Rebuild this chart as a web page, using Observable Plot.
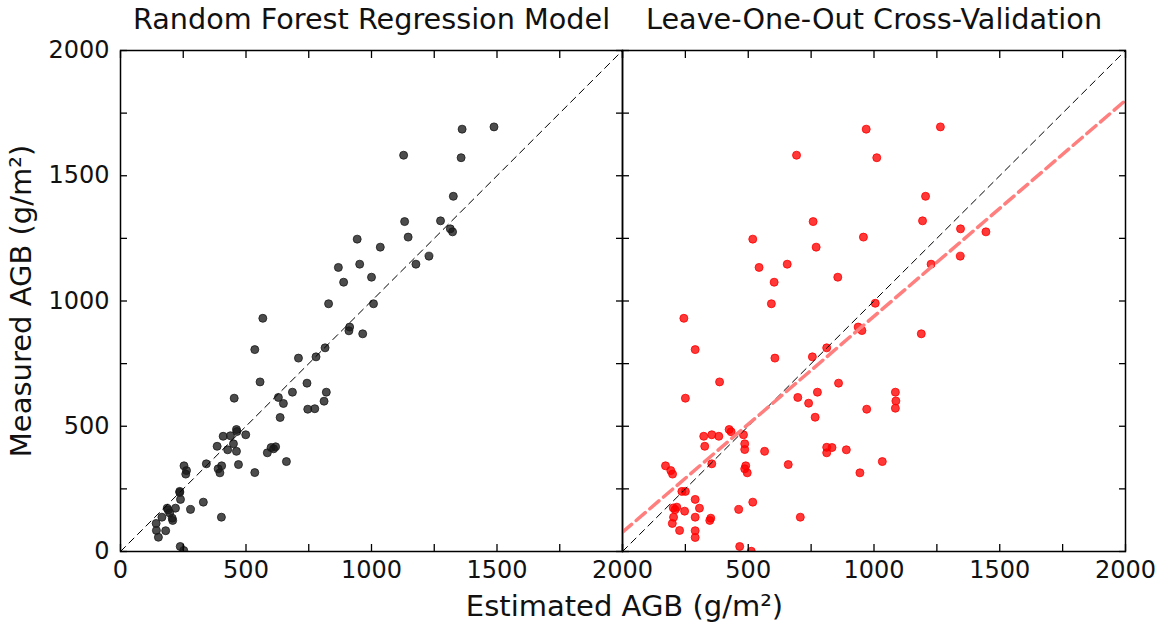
<!DOCTYPE html>
<html><head><meta charset="utf-8">
<script src="https://cdn.jsdelivr.net/npm/d3@7"></script>
<script src="https://cdn.jsdelivr.net/npm/@observablehq/plot@0.6"></script>
<style>
body{margin:0;background:#fff;}
#chart{position:relative;width:1158px;height:623px;overflow:hidden;}
</style>
</head><body><div id="chart"></div>
<script>
// ---- Data ----
const rfEstimated = [943,868,953,889,1000,1361,1488,1128,1357,1326,1132,1275,1314,1323,1146,1035,1229,1177,829,1008,567,913,910,965,535,709,779,815,556,743,685,820,811,629,649,746,774,636,453,499,464,462,438,409,385,450,427,462,585,600,618,610,661,470,535,342,403,389,396,253,263,260,236,236,239,330,279,219,186,190,196,206,208,165,402,142,143,180,151,238,252];
const rfMeasured  = [1247,1134,1147,1075,1095,1686,1695,1582,1572,1418,1317,1320,1288,1276,1255,1215,1179,1147,989,989,931,896,881,869,806,772,777,813,677,672,636,636,600,615,591,568,570,535,612,466,479,487,462,460,420,430,406,400,394,415,418,410,359,347,315,350,342,330,314,342,323,309,240,236,208,197,168,173,173,166,154,133,124,137,137,112,84,83,57,20,4];

const cvEstimated = [969,692,758,518,958,770,543,655,603,856,1264,1011,1205,1193,1344,1445,1343,1227,592,1005,244,289,606,386,250,424,432,323,355,383,481,327,486,486,565,355,171,192,199,490,486,496,659,236,250,518,289,306,202,216,209,247,203,289,351,347,707,462,198,227,289,289,466,512,755,812,937,952,971,697,740,775,859,766,812,833,812,890,944,1188,1085,1087,1085,1033];
const cvMeasured  = [1686,1582,1317,1247,1255,1215,1134,1147,1075,1095,1695,1572,1418,1320,1288,1276,1179,1147,989,991,931,806,772,677,612,487,478,460,466,460,466,420,430,407,400,350,342,323,309,342,330,314,347,240,240,197,208,173,174,177,167,161,137,137,133,124,137,168,112,84,83,56,20,1,777,813,896,882,568,615,592,636,672,536,416,415,394,406,314,869,636,601,572,359];

// LOOCV fitted line
const fitIntercept = 77;
const fitSlope = 0.862;

const axisDomain = [0, 2000];
const tickValues = [0, 250, 500, 750, 1000, 1250, 1500, 1750, 2000];
const leftTickLabels = [0, 500, 1000, 1500, 2000];
const rightTickLabels = [500, 1000, 1500, 2000];
const yTickLabels = [0, 500, 1000, 1500, 2000];

const titles = ["Random Forest Regression Model", "Leave-One-Out Cross-Validation"];
const xAxisLabel = "Estimated AGB (g/m²)";
const yAxisLabel = "Measured AGB (g/m²)";

// ---- Drawing ----
const W = 1158, H = 623;
const font = "DejaVu Sans";
const fmt = d3.format("d");

function panel({est, meas, fill, title, mLeft, mRight, xLabels, showY, fit, showXLabel}) {
  const pts = est.map((e, i) => ({e, m: meas[i]}));
  const marks = [
    Plot.dot(pts, {x: "e", y: "m", r: 4, fill, fillOpacity: 0.78, stroke: fill, strokeOpacity: 0.8, strokeWidth: 1, clip: true}),
    Plot.line(axisDomain, {x: d => d, y: d => d, stroke: "black", strokeWidth: 1, strokeDasharray: "7,5"}),
  ];
  if (fit) {
    marks.push(Plot.line(axisDomain, {x: d => d, y: d => fitIntercept + fitSlope * d, stroke: "#ff7f7f", strokeWidth: 3.5, strokeDasharray: "12,6", clip: true}));
  }
  marks.push(
    Plot.frame({stroke: "black", strokeWidth: 1.5}),
    Plot.axisX(tickValues, {anchor: "bottom", tickSize: -7, tickFormat: () => "", label: null, strokeWidth: 1.3}),
    Plot.axisX(tickValues, {anchor: "top", tickSize: -7, tickFormat: () => "", label: null, strokeWidth: 1.3}),
    Plot.axisY(tickValues, {anchor: "left", tickSize: -7, tickFormat: () => "", label: null, strokeWidth: 1.3}),
    Plot.axisY(tickValues, {anchor: "right", tickSize: -7, tickFormat: () => "", label: null, strokeWidth: 1.3}),
    Plot.axisX(xLabels, {anchor: "bottom", tickSize: 0, tickPadding: 9, tickFormat: fmt, label: null, fontSize: 24, fill: "#111"}),
    Plot.text([title], {frameAnchor: "top", lineAnchor: "bottom", dy: -22, fontSize: 28.7, fill: "#111"})
  );
  if (showY) {
    marks.push(
      Plot.axisY(yTickLabels, {anchor: "left", tickSize: 0, tickPadding: 11, tickFormat: fmt, label: null, fontSize: 24, fill: "#111"}),
      Plot.text([yAxisLabel], {frameAnchor: "left", dx: -99, rotate: -90, textAnchor: "middle", fontSize: 29, fill: "#111"})
    );
  }
  if (showXLabel) {
    marks.push(Plot.text([xAxisLabel], {frameAnchor: "bottom-right", dx: 2, dy: 64, fontSize: 29, fill: "#111", textAnchor: "middle"}));
  }
  return Plot.plot({
    width: W, height: H,
    marginLeft: mLeft, marginRight: mRight, marginTop: 50, marginBottom: 72,
    x: {domain: axisDomain, label: null},
    y: {domain: axisDomain, label: null},
    style: {position: "absolute", left: "0px", top: "0px", background: "transparent", overflow: "visible", fontFamily: font, fontSize: "24px", color: "black"},
    marks
  });
}

const chart = document.getElementById("chart");
chart.append(panel({est: rfEstimated, meas: rfMeasured, fill: "#1a1a1a", title: titles[0], mLeft: 120, mRight: W - 622, xLabels: leftTickLabels, showY: true, fit: false, showXLabel: true}));
chart.append(panel({est: cvEstimated, meas: cvMeasured, fill: "#ff0000", title: titles[1], mLeft: 622, mRight: W - 1125, xLabels: rightTickLabels, showY: false, fit: true, showXLabel: false}));
</script>
</body></html>
